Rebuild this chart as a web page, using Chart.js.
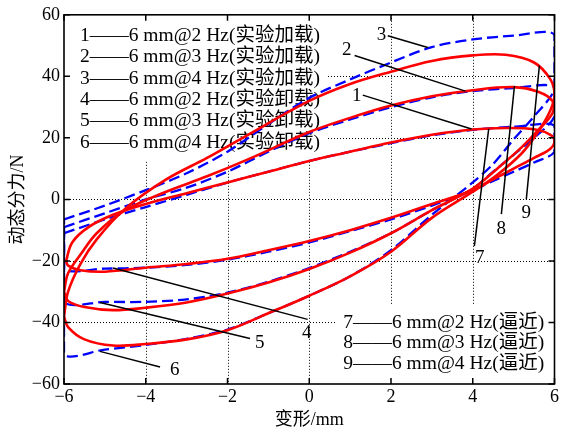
<!DOCTYPE html>
<html>
<head>
<meta charset="utf-8">
<script src="https://cdn.jsdelivr.net/npm/chart.js@4.4.0/dist/chart.umd.min.js"></script>
<style>
  html, body { margin: 0; padding: 0; background: #fff; }
  #wrap { width: 561px; height: 434px; }
</style>
</head>
<body>
<div id="wrap"><canvas id="loops" width="561" height="434"></canvas></div>
<script>
const FONT = "'Liberation Serif', 'Noto Sans CJK SC', serif";

// test loops (red, solid) - loading branch then unloading branch, closed
const red2HzX = [-5.95, -5.8, -5.4, -4.8, -4.0, -3.0, -2.0, -1.0, 0, 1, 2, 3, 4, 4.8, 5.5, 5.9, 6.0, 5.9, 5.5, 5.0, 4.5, 4.0, 3.0, 2.0, 1.0, 0, -1, -2, -3, -4, -5, -5.6, -5.9, -5.95];
const red2HzY = [-20, -14, -9, -5, -1.5, 2, 5.5, 9, 12.5, 15.5, 18.5, 21, 22.7, 23.2, 22.8, 21, 19, 16.5, 13.5, 10, 6.5, 3, -1.5, -6, -10, -13.5, -16.5, -19.3, -21, -22.2, -23.5, -23, -21.5, -20];

const red3HzX = [-6, -5.9, -5.6, -5.2, -4.5, -3.5, -2.5, -1.5, 0, 1, 2, 3, 4, 5, 5.6, 5.95, 5.95, 5.6, 5.2, 4.6, 4, 3, 2, 1, 0, -1, -2, -3, -4, -4.8, -5.5, -5.9, -6];
const red3HzY = [-30, -24, -18, -11, -3.5, 2.5, 7.5, 13, 21.9, 26.5, 30.5, 33.5, 35.5, 36.5, 35, 32, 28, 22.5, 17, 10, 3.5, -3.5, -11, -17.3, -22.6, -27, -30.6, -33.5, -35.2, -36, -35, -33, -30];

const red4HzX = [-6, -5.9, -5.6, -5.2, -4.5, -3.5, -2.5, -1.5, 0, 1, 2, 3, 4, 4.8, 5.5, 5.9, 6, 5.9, 5.6, 5.2, 4.6, 4, 3, 2, 1, 0, -1, -2, -3, -4, -4.8, -5.5, -5.9, -6];
const red4HzY = [-38, -30, -21, -13, -3, 6.5, 13.5, 21, 32, 37.5, 41.5, 45, 46.8, 47, 44.5, 39, 34, 29, 22, 15, 8, 2.5, -6, -17, -25, -31.3, -37, -42.5, -45.5, -47, -47.5, -45.5, -41.5, -38];

// fitted loops (blue, dashed)
const fitX = [-6, -5, -4, -3, -2, -1, 0, 1, 2, 3, 4, 5, 6, 6, 5.5, 5, 4.5, 4, 3, 2, 1, 0, -1, -2, -3, -4, -5, -6, -6];
const fit2HzY = [-11, -6.5, -2.5, 1.5, 5.5, 9, 12.5, 15.5, 18.3, 20.8, 22.6, 23.6, 24, 15.5, 12, 9, 6, 3, -2, -6.5, -10.3, -14, -17, -19.6, -21.3, -22.2, -22.5, -22.6, -11];
const fit3HzY = [-9, -4.5, 0, 3.8, 9, 15.5, 21.5, 26, 30, 33.2, 35.2, 36.2, 36.5, 27, 20, 14.5, 9, 3.5, -3.5, -11, -17, -22.3, -26.8, -30.3, -32.5, -33.3, -33.3, -33.2, -9];
const fit4HzY = [-6.5, -2, 3, 8.5, 15.5, 24.5, 33, 39, 44.5, 49.5, 52, 53.2, 53.5, 36, 27, 19.5, 11.5, 5.5, -5, -16.5, -25, -31.3, -37, -42.3, -45.3, -47.3, -48.8, -50, -6.5];

// leader lines and their numbers
const leadNames = ['1', '2', '3', '4', '5', '6', '7', '8', '9'];
const leadX1 = [1.31, 1.11, 1.92, -4.80, -5.12, -5.12, 4.39, 5.02, 5.63];
const leadY1 = [33.9, 46.8, 53.2, -22.3, -33.5, -49.4, 22.9, 36.8, 43.5];
const leadX2 = [3.97, 3.82, 2.90, -0.04, -1.45, -3.65, 4.04, 4.70, 5.31];
const leadY2 = [22.9, 35.2, 49.4, -39.0, -45.2, -54.5, -15.2, -4.8, 0.0];
const nameX = [1.16, 0.92, 1.77, -0.06, -1.21, -3.29, 4.17, 4.70, 5.31];
const nameY = [33.7, 48.7, 53.5, -43.5, -46.8, -55.5, -19.0, -9.7, -4.5];

const legendLoad = ['1——6 mm@2 Hz(实验加载)', '2——6 mm@3 Hz(实验加载)', '3——6 mm@4 Hz(实验加载)',
                    '4——6 mm@2 Hz(实验卸载)', '5——6 mm@3 Hz(实验卸载)', '6——6 mm@4 Hz(实验卸载)'];
const legendFit = ['7——6 mm@2 Hz(逼近)', '8——6 mm@3 Hz(逼近)', '9——6 mm@4 Hz(逼近)'];

const xTicks = [-6, -4, -2, 0, 2, 4, 6];
const yTicks = [-60, -40, -20, 0, 20, 40, 60];

function pts(xs, ys) {
  return xs.map((v, i) => ({ x: v, y: ys[i] }));
}

const datasets = [];
[[red2HzX, red2HzY], [red3HzX, red3HzY], [red4HzX, red4HzY]].forEach(([xs, ys]) => {
  datasets.push({ data: pts(xs, ys), showLine: true, borderColor: '#ff0000', borderWidth: 2.6,
                  pointRadius: 0, tension: 0.35, order: 1 });
});
[fit2HzY, fit3HzY, fit4HzY].forEach(ys => {
  datasets.push({ data: pts(fitX, ys), showLine: true, borderColor: '#0000ff', borderWidth: 2.3,
                  borderDash: [11, 5], pointRadius: 0, tension: 0.3, order: 2 });
});
leadNames.forEach((n, i) => {
  datasets.push({ data: [{ x: leadX1[i], y: leadY1[i] }, { x: leadX2[i], y: leadY2[i] }],
                  showLine: true, borderColor: '#000', borderWidth: 1.5, pointRadius: 0, tension: 0, order: 0 });
});

const framePlugin = {
  id: 'frame',
  beforeDatasetsDraw(chart) {
    const { ctx, chartArea: a, scales: { x, y } } = chart;
    ctx.save();
    // dotted grid
    ctx.strokeStyle = '#000';
    ctx.lineWidth = 1;
    ctx.setLineDash([1, 2]);
    xTicks.slice(1, -1).forEach(v => {
      const px = Math.round(x.getPixelForValue(v)) + 0.5;
      ctx.beginPath(); ctx.moveTo(px, a.top); ctx.lineTo(px, a.bottom); ctx.stroke();
    });
    yTicks.slice(1, -1).forEach(v => {
      const py = Math.round(y.getPixelForValue(v)) + 0.5;
      ctx.beginPath(); ctx.moveTo(a.left, py); ctx.lineTo(a.right, py); ctx.stroke();
    });
    ctx.setLineDash([]);

    // white panels behind the two text blocks
    ctx.fillStyle = '#fff';
    const x0 = x.getPixelForValue(-6), x1 = x.getPixelForValue(0.45);
    const y0 = y.getPixelForValue(60), y1 = y.getPixelForValue(12.3);
    ctx.fillRect(x0, y0, x1 - x0, y1 - y0);
    const x2 = x.getPixelForValue(0.67), x3 = x.getPixelForValue(6);
    const y2 = y.getPixelForValue(-34.2), y3 = y.getPixelForValue(-60);
    ctx.fillRect(x2, y2, x3 - x2, y3 - y2);

    // text blocks
    ctx.fillStyle = '#000';
    ctx.font = '19.5px ' + FONT;
    ctx.textBaseline = 'middle';
    ctx.textAlign = 'left';
    let tx = x.getPixelForValue(-5.61), ty = y.getPixelForValue(53.2);
    legendLoad.forEach((s, i) => ctx.fillText(s, tx, ty + i * 21.4));
    tx = x.getPixelForValue(0.83); ty = y.getPixelForValue(-40);
    legendFit.forEach((s, i) => ctx.fillText(s, tx, ty + i * 20.5));
    ctx.restore();
  },
  afterDatasetsDraw(chart) {
    const { ctx, chartArea: a, scales: { x, y } } = chart;
    ctx.save();
    ctx.fillStyle = '#000';
    ctx.font = '19px ' + FONT;
    ctx.textAlign = 'center';
    ctx.textBaseline = 'middle';
    leadNames.forEach((n, i) => ctx.fillText(n, x.getPixelForValue(nameX[i]), y.getPixelForValue(nameY[i])));

    // inward ticks on all four sides
    ctx.strokeStyle = '#000';
    ctx.lineWidth = 1.5;
    const t = 6;
    xTicks.forEach(v => {
      const px = x.getPixelForValue(v);
      ctx.beginPath();
      ctx.moveTo(px, a.bottom); ctx.lineTo(px, a.bottom - t);
      ctx.moveTo(px, a.top); ctx.lineTo(px, a.top + t);
      ctx.stroke();
    });
    yTicks.forEach(v => {
      const py = y.getPixelForValue(v);
      ctx.beginPath();
      ctx.moveTo(a.left, py); ctx.lineTo(a.left + t, py);
      ctx.moveTo(a.right, py); ctx.lineTo(a.right - t, py);
      ctx.stroke();
    });
    ctx.lineWidth = 1.6;
    ctx.strokeRect(a.left, a.top, a.right - a.left, a.bottom - a.top);
    ctx.restore();
  }
};

const minus = v => String(v).replace('-', '\u2212');

new Chart(document.getElementById('loops'), {
  type: 'scatter',
  data: { datasets },
  options: {
    responsive: false,
    devicePixelRatio: 1,
    animation: false,
    events: [],
    layout: { padding: { top: 12, right: 6, left: 0, bottom: 0 } },
    plugins: { legend: { display: false }, tooltip: { enabled: false } },
    scales: {
      x: {
        min: -6, max: 6,
        afterFit: s => { s.height = 50; },
        afterBuildTicks: s => { s.ticks = xTicks.map(v => ({ value: v })); },
        grid: { display: false, drawTicks: false },
        border: { display: false },
        ticks: { color: '#000', padding: 2, maxRotation: 0, font: { family: FONT, size: 18 }, callback: minus },
        title: { display: true, text: '变形/mm', color: '#000', padding: { top: 2, bottom: 3 },
                 font: { family: FONT, size: 18 } }
      },
      y: {
        min: -60, max: 60,
        afterFit: s => { s.width = 64; },
        afterBuildTicks: s => { s.ticks = yTicks.map(v => ({ value: v })); },
        grid: { display: false, drawTicks: false },
        border: { display: false },
        ticks: { color: '#000', padding: 4, font: { family: FONT, size: 18 }, callback: minus },
        title: { display: true, text: '动态分力/N', color: '#000', padding: { top: 7, bottom: 2 },
                 font: { family: FONT, size: 18 } }
      }
    }
  },
  plugins: [framePlugin]
});
</script>
</body>
</html>
